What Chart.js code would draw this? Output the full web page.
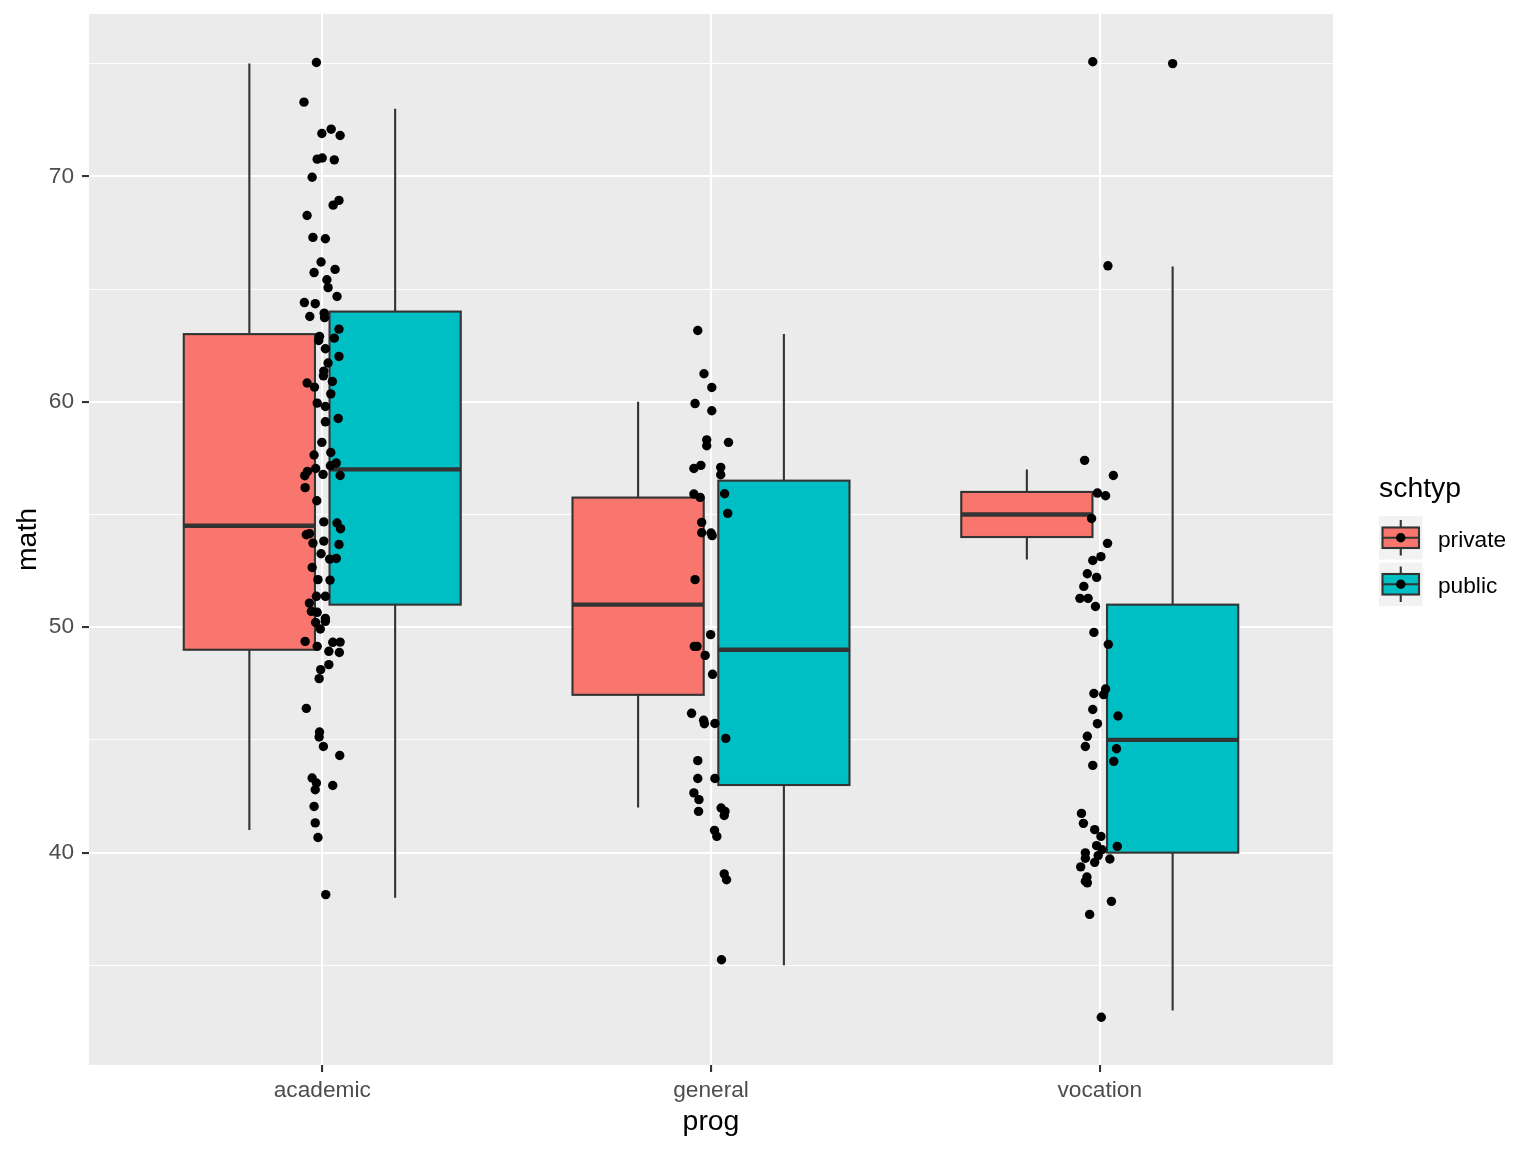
<!DOCTYPE html>
<html lang="en">
<head>
<meta charset="UTF-8">
<title>math by prog and schtyp</title>
<script src="https://cdn.jsdelivr.net/npm/chart.js@4.4.1/dist/chart.umd.min.js"></script>
<style>
    html, body { margin: 0; padding: 0; background: #ffffff; }
    #wrap { width: 1536px; height: 1152px; position: relative; }
</style>
</head>
<body>
<div id="wrap"><canvas id="grafico"></canvas></div>
<script>
const categories = ["academic", "general", "vocation"];
const groups = ["private", "public"];
const groupColors = ["#F8766D", "#00BFC4"];

// min, q1, median, q3, max per category
const privateStats = [[41, 49, 54.5, 63, 75], [42, 47, 51, 55.75, 60], [53, 54, 55, 56, 57]];
const publicStats = [[38, 51, 57, 64, 73], [35, 43, 49, 56.5, 63], [33, 40, 45, 51, 66]];
const privateOutliers = [[], [], []];
const publicOutliers = [[], [], [75]];

const yTicks = [35, 40, 45, 50, 55, 60, 65, 70, 75];

// jittered points: [offset from category, math]
const academicPoints = [
    [-0.015, 75.05], [-0.047, 73.29], [-0.001, 71.90], [0.023, 72.09], [0.046, 71.81],
    [-0.013, 70.76], [0.000, 70.81], [0.031, 70.73], [-0.026, 69.96], [0.043, 68.93],
    [0.028, 68.72], [-0.039, 68.26], [-0.024, 67.29], [0.008, 67.23], [-0.003, 66.20],
    [-0.021, 65.73], [0.033, 65.87], [0.012, 65.41], [0.015, 65.06], [0.038, 64.67],
    [-0.046, 64.40], [-0.018, 64.35], [-0.032, 63.78], [0.005, 63.93], [0.006, 63.73],
    [0.043, 63.22], [-0.007, 62.90], [0.031, 62.82], [0.008, 62.35], [-0.009, 62.72],
    [0.043, 62.01], [0.015, 61.72], [0.004, 61.36], [0.003, 61.15], [-0.039, 60.83],
    [-0.020, 60.65], [0.026, 60.90], [0.022, 60.35], [-0.013, 59.94], [0.008, 59.79],
    [0.041, 59.26], [0.008, 59.11], [-0.001, 58.20], [-0.021, 57.64], [0.022, 57.75],
    [0.036, 57.28], [0.021, 57.16], [-0.017, 57.04], [-0.038, 56.91], [-0.045, 56.72],
    [0.002, 56.78], [0.046, 56.73], [-0.044, 56.19], [-0.014, 55.61], [0.004, 54.67],
    [0.038, 54.62], [0.047, 54.37], [-0.041, 54.10], [-0.033, 54.15], [0.004, 53.82],
    [-0.024, 53.73], [0.043, 53.67], [-0.003, 53.26], [0.019, 53.02], [0.036, 53.05],
    [-0.026, 52.65], [-0.011, 52.11], [0.020, 52.09], [-0.015, 51.37], [0.008, 51.37],
    [-0.033, 51.07], [-0.028, 50.70], [-0.013, 50.66], [0.008, 50.39], [-0.017, 50.21],
    [0.008, 50.26], [-0.005, 49.92], [-0.044, 49.37], [-0.013, 49.15], [0.027, 49.33],
    [0.046, 49.34], [0.017, 48.93], [0.044, 48.88], [0.017, 48.34], [-0.004, 48.12],
    [-0.008, 47.72], [-0.041, 46.40], [-0.007, 45.35], [-0.008, 45.13], [0.003, 44.71],
    [0.045, 44.31], [-0.026, 43.31], [-0.015, 43.09], [-0.018, 42.79], [0.027, 42.98],
    [-0.021, 42.05], [-0.018, 41.32], [-0.011, 40.67], [0.009, 38.14]
];
const generalPoints = [
    [-0.034, 63.16], [-0.018, 61.24], [0.002, 60.63], [-0.041, 59.92], [0.002, 59.60],
    [-0.011, 58.31], [-0.011, 58.05], [0.045, 58.20], [-0.044, 57.04], [-0.026, 57.18],
    [0.025, 57.09], [0.025, 56.76], [-0.044, 55.91], [-0.028, 55.76], [0.035, 55.92],
    [0.043, 55.05], [-0.024, 54.65], [-0.024, 54.19], [0.000, 54.18], [0.003, 54.06],
    [-0.041, 52.11], [-0.001, 49.67], [-0.043, 49.15], [-0.036, 49.15], [-0.015, 48.75],
    [0.004, 47.91], [-0.050, 46.18], [-0.019, 45.87], [-0.017, 45.72], [0.010, 45.73],
    [0.038, 45.07], [-0.034, 44.08], [-0.034, 43.29], [0.010, 43.29], [-0.044, 42.65],
    [-0.031, 42.35], [-0.032, 41.83], [0.026, 41.98], [0.036, 41.83], [0.034, 41.65],
    [0.009, 40.99], [0.015, 40.72], [0.034, 39.06], [0.040, 38.80], [0.027, 35.25]
];
const vocationPoints = [
    [-0.018, 75.08], [0.021, 66.03], [-0.039, 57.40], [0.035, 56.73], [-0.006, 55.95],
    [0.015, 55.83], [-0.021, 54.82], [0.020, 53.72], [0.003, 53.13], [-0.018, 52.96],
    [-0.032, 52.37], [-0.008, 52.21], [-0.041, 51.81], [-0.051, 51.28], [-0.030, 51.28],
    [-0.011, 50.92], [-0.015, 49.77], [0.022, 49.24], [0.015, 47.26], [-0.015, 47.06],
    [0.010, 47.01], [-0.018, 46.35], [0.047, 46.06], [-0.006, 45.72], [-0.032, 45.16],
    [-0.037, 44.71], [0.043, 44.61], [0.036, 44.05], [-0.018, 43.87], [-0.047, 41.74],
    [-0.042, 41.30], [-0.013, 41.02], [0.003, 40.72], [-0.008, 40.31], [0.045, 40.28],
    [0.006, 40.13], [-0.037, 39.99], [-0.004, 39.87], [-0.037, 39.75], [0.026, 39.72],
    [-0.013, 39.57], [-0.049, 39.37], [-0.033, 38.92], [-0.037, 38.73], [-0.032, 38.66],
    [0.030, 37.84], [-0.026, 37.26], [0.004, 32.70]
];

const fuente = '"Liberation Sans", Arial, Helvetica, sans-serif';
Chart.defaults.font.family = fuente;

const dodge = 0.375;            // distance between private and public centres
const boxWidth = 0.375 * 0.9;   // dodge2 padding

function groupCenter(i, g) {
    return i + (g - 0.5) * dodge;
}

// points, outliers
const jitter = [];
[academicPoints, generalPoints, vocationPoints].forEach((pts, i) => {
    pts.forEach(p => jitter.push({ x: i + p[0], y: p[1] }));
});
const outliers = [];
[privateOutliers, publicOutliers].forEach((list, g) => {
    list.forEach((vals, i) => vals.forEach(v => outliers.push({ x: groupCenter(i, g), y: v })));
});

// y range like ggplot: data range + 5%
const todos = jitter.map(p => p.y)
    .concat(privateStats.flat(), publicStats.flat(), outliers.map(p => p.y));
const yLo = Math.min(...todos);
const yHi = Math.max(...todos);
const yPad = (yHi - yLo) * 0.05;

const fondoPlugin = {
    id: "fondo",
    beforeDraw(chart) {
        const { ctx, chartArea: a } = chart;
        ctx.save();
        ctx.fillStyle = "#FFFFFF";
        ctx.fillRect(0, 0, chart.width, chart.height);
        ctx.fillStyle = "#EBEBEB";
        ctx.fillRect(a.left, a.top, a.right - a.left, a.bottom - a.top);
        ctx.restore();
    }
};

const cajasPlugin = {
    id: "cajas",
    beforeDatasetsDraw(chart) {
        const { ctx, scales: { x, y } } = chart;
        [privateStats, publicStats].forEach((stats, g) => {
            stats.forEach((s, i) => {
                const c = x.getPixelForValue(groupCenter(i, g));
                const left = x.getPixelForValue(groupCenter(i, g) - boxWidth / 2);
                const right = x.getPixelForValue(groupCenter(i, g) + boxWidth / 2);
                const [lo, q1, med, q3, hi] = s.map(v => y.getPixelForValue(v));
                ctx.save();
                ctx.strokeStyle = "#333333";
                ctx.lineWidth = 2.1;
                ctx.beginPath();
                ctx.moveTo(c, lo); ctx.lineTo(c, q1);
                ctx.moveTo(c, q3); ctx.lineTo(c, hi);
                ctx.stroke();
                ctx.fillStyle = groupColors[g];
                ctx.fillRect(left, q3, right - left, q1 - q3);
                ctx.strokeRect(left, q3, right - left, q1 - q3);
                ctx.lineWidth = 4.3;
                ctx.beginPath();
                ctx.moveTo(left, med); ctx.lineTo(right, med);
                ctx.stroke();
                ctx.restore();
            });
        });
    }
};

const leyendaPlugin = {
    id: "leyenda",
    afterDraw(chart) {
        const ctx = chart.ctx;
        const x0 = 1379, top0 = 516, key = 43.5, gap = 3;
        ctx.save();
        ctx.fillStyle = "#000000";
        ctx.textBaseline = "alphabetic";
        ctx.textAlign = "left";
        ctx.font = "28.4px " + fuente;
        ctx.fillText("schtyp", x0, 497);
        groups.forEach((nombre, g) => {
            const ty = top0 + g * (key + gap);
            const cx = x0 + key / 2, cy = ty + key / 2;
            ctx.fillStyle = "#F2F2F2";
            ctx.fillRect(x0, ty, key, key);
            ctx.strokeStyle = "#333333";
            ctx.lineWidth = 2.1;
            ctx.beginPath();
            ctx.moveTo(cx, ty + 4); ctx.lineTo(cx, ty + key - 4);
            ctx.stroke();
            ctx.fillStyle = groupColors[g];
            ctx.fillRect(x0 + 3.5, ty + 11.5, key - 7, key - 23);
            ctx.strokeRect(x0 + 3.5, ty + 11.5, key - 7, key - 23);
            ctx.beginPath();
            ctx.moveTo(x0 + 3.5, cy); ctx.lineTo(x0 + key - 3.5, cy);
            ctx.stroke();
            ctx.fillStyle = "#000000";
            ctx.beginPath();
            ctx.arc(cx, cy, 4.7, 0, Math.PI * 2);
            ctx.fill();
            ctx.font = "22.7px " + fuente;
            ctx.fillText(nombre, 1438, cy + 9);
        });
        ctx.restore();
    }
};

const ctx = document.getElementById("grafico").getContext("2d");
new Chart(ctx, {
    type: "scatter",
    data: {
        datasets: [
            {
                label: "outliers",
                data: outliers,
                pointRadius: 4.7,
                pointBackgroundColor: "#000000",
                pointBorderWidth: 0
            },
            {
                label: "math",
                data: jitter,
                pointRadius: 4.7,
                pointBackgroundColor: "#000000",
                pointBorderWidth: 0
            }
        ]
    },
    options: {
        responsive: true,
        maintainAspectRatio: false,
        devicePixelRatio: 1,
        animation: false,
        events: [],
        layout: { padding: { top: 14, right: 203, bottom: 0, left: 0 } },
        plugins: {
            legend: { display: false },
            tooltip: { enabled: false }
        },
        scales: {
            x: {
                type: "linear",
                min: -0.6,
                max: categories.length - 1 + 0.6,
                afterBuildTicks: s => { s.ticks = categories.map((_, i) => ({ value: i })); },
                afterFit: s => { s.height = 87; s.paddingLeft = 0; s.paddingRight = 0; },
                border: { display: false },
                grid: {
                    color: "#FFFFFF",
                    lineWidth: 2.1,
                    tickColor: "#333333",
                    tickLength: 7,
                    tickWidth: 2.1
                },
                ticks: {
                    callback: v => categories[v],
                    color: "#4D4D4D",
                    font: { size: 22.7 },
                    padding: 5,
                    maxRotation: 0,
                    autoSkip: false
                },
                title: {
                    display: true,
                    text: "prog",
                    color: "#000000",
                    font: { size: 28.4 },
                    padding: { top: 0, bottom: 13 }
                }
            },
            y: {
                type: "linear",
                min: yLo - yPad,
                max: yHi + yPad,
                afterBuildTicks: s => { s.ticks = yTicks.map(v => ({ value: v })); },
                afterFit: s => { s.width = 89; s.paddingTop = 0; s.paddingBottom = 0; },
                border: { display: false },
                grid: {
                    color: "#FFFFFF",
                    lineWidth: c => (c.tick && c.tick.value % 10 === 0 ? 2.1 : 1.05),
                    tickColor: c => (c.tick && c.tick.value % 10 === 0 ? "#333333" : "rgba(0,0,0,0)"),
                    tickLength: 7,
                    tickWidth: 2.1
                },
                ticks: {
                    callback: v => (v % 10 === 0 ? v : ""),
                    color: "#4D4D4D",
                    font: { size: 22.7 },
                    padding: 8,
                    autoSkip: false
                },
                title: {
                    display: true,
                    text: "math",
                    color: "#000000",
                    font: { size: 28.4 },
                    padding: { top: 11, bottom: 0 }
                }
            }
        }
    },
    plugins: [fondoPlugin, cajasPlugin, leyendaPlugin]
});
</script>
</body>
</html>
